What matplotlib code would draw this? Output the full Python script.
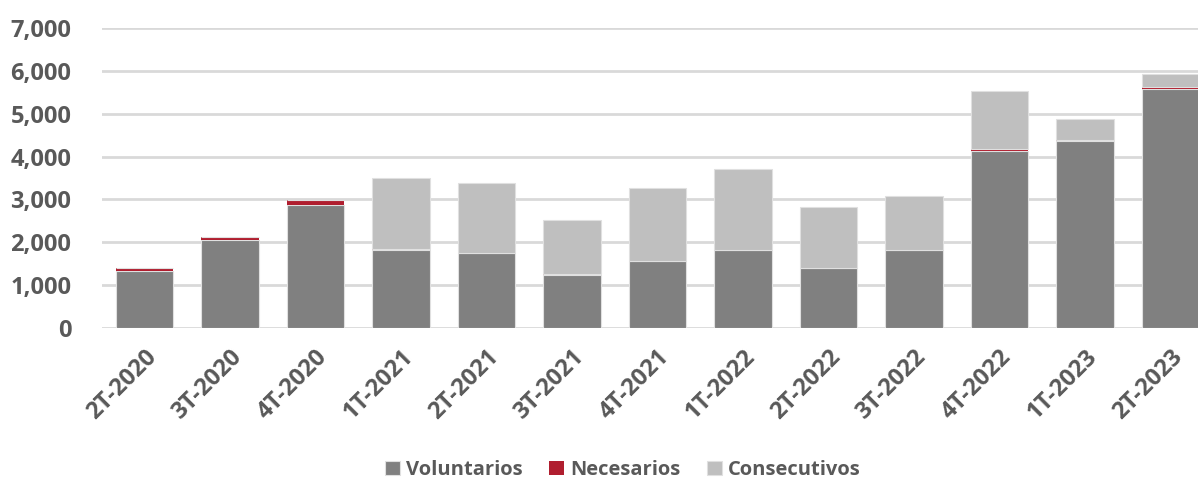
import matplotlib
matplotlib.use("Agg")
import matplotlib.pyplot as plt
import numpy as np

categories = ["2T-2020", "3T-2020", "4T-2020", "1T-2021", "2T-2021", "3T-2021", "4T-2021",
              "1T-2022", "2T-2022", "3T-2022", "4T-2022", "1T-2023", "2T-2023"]
voluntarios = [1340, 2045, 2870, 1815, 1740, 1240, 1570, 1810, 1390, 1810, 4135, 4370, 5580]
necesarios = [55, 75, 110, 25, 15, 10, 5, 15, 10, 15, 40, 20, 35]
consecutivos = [0, 0, 0, 1660, 1620, 1270, 1685, 1878, 1430, 1262, 1353, 486, 311]
yticks = [0, 1000, 2000, 3000, 4000, 5000, 6000, 7000]

FAM = ['Open Sans', 'DejaVu Sans']
plt.rcParams['font.family'] = FAM
W, H = 1198, 480
fig = plt.figure(figsize=(W / 100, H / 100), dpi=100)
left_px, right_px = 101.75, 1213.25
bot_px, top_px = 328, 28
ax = fig.add_axes([left_px / W, (H - bot_px) / H, (right_px - left_px) / W, (bot_px - top_px) / H])

x = np.arange(len(categories))
vol = np.array(voluntarios)
nec = np.array(necesarios)
con = np.array(consecutivos)
bw = 0.667
ec = '#E0E0E0'
ax.bar(x, vol, bw, color='#808080', edgecolor=ec, linewidth=0.8, label='Voluntarios', zorder=3)
ax.bar(x, nec, bw, bottom=vol, color='#B01E2F', edgecolor='none', linewidth=0, label='Necesarios', zorder=3)
ax.bar(x, con, bw, bottom=vol + nec, color='#BFBFBF', edgecolor=ec, linewidth=0.8, label='Consecutivos', zorder=3)

ax.set_xlim(-0.5, len(categories) - 0.5)
ax.set_ylim(0, 7000)
ax.set_yticks(yticks)
ax.set_yticklabels([f"{v:,}" for v in yticks], fontsize=17, fontweight='bold', color='#595959')
ax.set_xticks(x)
ax.set_xticklabels(categories, rotation=45, ha='right', rotation_mode='anchor',
                   fontsize=17, fontweight='bold', color='#595959')
ax.tick_params(axis='both', length=0)
ax.tick_params(axis='y', pad=22)
ax.tick_params(axis='x', pad=12)
ax.grid(axis='y', color='#D9D9D9', linewidth=2, zorder=0)
ax.set_axisbelow(True)
for s in ax.spines.values():
    s.set_visible(False)

handles, labels = ax.get_legend_handles_labels()
leg = fig.legend(handles, labels, loc='center', bbox_to_anchor=(0.52, (H - 470) / H), ncol=3,
                 frameon=False, prop={'family': FAM, 'weight': 'bold', 'size': 14.5},
                 handlelength=0.75, handleheight=0.75, handletextpad=0.3, columnspacing=1.3)
for t in leg.get_texts():
    t.set_color('#595959')

fig.savefig('out.png', dpi=100)
